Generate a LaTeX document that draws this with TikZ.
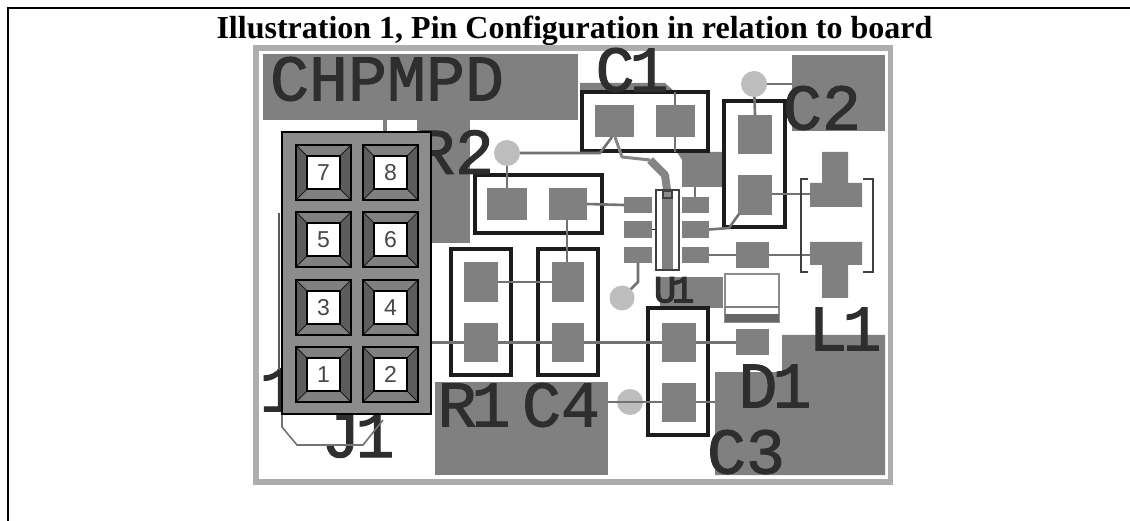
\documentclass[tikz,border=0pt]{standalone}
\usepackage{fontspec}
\setmainfont{Liberation Serif}
\newfontfamily\silk[FakeBold=1.6]{Liberation Mono}
\newfontfamily\silkb[FakeBold=3]{Liberation Mono}
\newfontfamily\pinf{Liberation Sans}
\usetikzlibrary{backgrounds}
\definecolor{padc}{HTML}{808080}
\definecolor{tracec}{HTML}{727272}
\definecolor{boxc}{HTML}{1C1C1C}
\definecolor{dotc}{HTML}{BDBDBD}
\definecolor{silkc}{HTML}{2E2E2E}
\definecolor{hdrc}{HTML}{8C8C8C}
\tikzset{
  rectn/.style={rectangle,inner sep=0pt,outer sep=0pt},
  padn/.style={rectn,fill=padc},
  partbox/.style={rectn,draw=boxc,line width=3.4pt,fill=white},
  tracel/.style={draw=tracec,line width=2.6pt},
  dotn/.style={circle,fill=dotc,inner sep=0pt,outer sep=0pt,minimum size=26pt},
  silktext/.style={inner sep=0pt,outer sep=0pt,text=silkc,font=\silk\fontsize{65}{65}\selectfont},
  pinlabel/.style={inner sep=0pt,text=black!72,font=\pinf\fontsize{23}{23}\selectfont},
}
% name, style, x0, y0, x1, y1
\newcommand{\rn}[6]{%
  \pgfmathsetmacro{\myw}{#5-#3}\pgfmathsetmacro{\myh}{#6-#4}%
  \pgfmathsetmacro{\mycx}{(#3+#5)/2}\pgfmathsetmacro{\mycy}{(#4+#6)/2}%
  \node[#2,minimum width=\myw pt,minimum height=\myh pt] (#1) at (\mycx,\mycy) {};}
% name, x0, y0, digit
\newcommand{\pinn}[4]{%
  \begin{scope}[shift={(#2,#3)}]
    \fill[black!50] (0,0) -- (55,0) -- (44,11) -- (11,11) -- cycle;
    \fill[black!50] (0,55) -- (55,55) -- (44,44) -- (11,44) -- cycle;
    \fill[black!64] (0,0) -- (0,55) -- (11,44) -- (11,11) -- cycle;
    \fill[black!64] (55,0) -- (55,55) -- (44,44) -- (44,11) -- cycle;
    \draw[black!90,line width=1pt] (0,0) -- (11,11) (55,0) -- (44,11) (0,55) -- (11,44) (55,55) -- (44,44);
    \draw[black,line width=2.4pt] (0,0) rectangle (55,55);
    \node[rectn,fill=white,draw=black,line width=1.8pt,minimum width=33pt,minimum height=33pt] (#1) at (27.5,27.5) {};
    \node[pinlabel] (#1t) at (27.5,27.5) {#4};
  \end{scope}}
\begin{document}
\begin{tikzpicture}[x=1pt,y=-1pt]
\useasboundingbox (0,0) rectangle (1130,521);
\fill[white] (0,0) rectangle (1130,521);
% page frame
\draw[black,line width=2pt] (8,521) -- (8,8) -- (1130,8);
% title
\node[inner sep=0pt,anchor=base,font=\bfseries\fontsize{32}{32}\selectfont] (title) at (574.5,38.5) {Illustration 1, Pin Configuration in relation to board};
% board
\draw[black!32,line width=5.5pt] (256,48) rectangle (890.5,482);
% copper pours
\fill[padc] (263,54) rectangle (578,120);
\fill[padc] (417,120) rectangle (470,243);
\fill[padc] (792,55) rectangle (885,131);
\fill[padc] (715,372) -- (782,372) -- (782,335) -- (885,335) -- (885,475) -- (715,475) -- cycle;
\fill[padc] (435,382) rectangle (608,475);
\fill[padc] (660,277) rectangle (723,308);
\fill[padc] (580,83) -- (665,83) -- (675,92) -- (580,92) -- cycle;
\fill[padc] (677,152) -- (723,152) -- (723,187) -- (682,187) -- (682,160) -- cycle;
\fill[padc] (383,120) rectangle (387,132);
% part outlines
\rn{C1box}{partbox}{582}{92}{708}{151}
\rn{C2box}{partbox}{724}{101}{785}{227}
\rn{R2box}{partbox}{475}{175}{602}{233}
\rn{R1box}{partbox}{451}{249}{511}{375}
\rn{C4box}{partbox}{538}{249}{598}{375}
\rn{C3box}{partbox}{648}{308}{708}{435}
% pads
\rn{C1a}{padn}{595}{105}{634}{137}
\rn{C1b}{padn}{656}{105}{695}{137}
\rn{C2a}{padn}{738}{115}{772}{154}
\rn{C2b}{padn}{738}{175}{772}{215}
\rn{R2a}{padn}{487}{188}{527}{220}
\rn{R2b}{padn}{549}{188}{587}{220}
\rn{R1a}{padn}{464}{262}{498}{302}
\rn{R1b}{padn}{464}{323}{498}{362}
\rn{C4a}{padn}{552}{262}{584}{302}
\rn{C4b}{padn}{552}{323}{584}{362}
\rn{C3a}{padn}{662}{323}{696}{362}
\rn{C3b}{padn}{662}{383}{696}{422}
\rn{D1p}{padn}{736}{329}{769}{355}
\rn{Qp}{padn}{736}{242}{769}{268}
\rn{UL1}{padn}{624}{197}{652}{213}
\rn{UL2}{padn}{624}{221}{652}{238}
\rn{UL3}{padn}{624}{247}{652}{263}
\rn{UR1}{padn}{682}{197}{709}{213}
\rn{UR2}{padn}{682}{221}{709}{238}
\rn{UR3}{padn}{682}{247}{709}{263}
% L1 pads
\fill[padc] (822,152) -- (848,152) -- (848,183) -- (862,183) -- (862,207) -- (810,207) -- (810,183) -- (822,183) -- cycle;
\fill[padc] (810,242) -- (862,242) -- (862,265) -- (848,265) -- (848,298) -- (822,298) -- (822,265) -- (810,265) -- cycle;
\coordinate (L1up) at (810,194);
\coordinate (L1lo) at (810,255);
% dots
\node[dotn] (dotA) at (507,153) {};
\node[dotn] (dotB) at (754,84) {};
\node[dotn,minimum size=25pt] (dotC) at (622,298) {};
\node[dotn] (dotD) at (630,402) {};
% free ends
\coordinate (pourC2) at (792,84);
\coordinate (pourC1) at (675,92);
\coordinate (pourU) at (695,187);
\coordinate (pourC4) at (608,402);
\coordinate (pourD1) at (715,402);
\coordinate (J1r) at (431,342.5);
% traces
\draw[tracel] (dotB) -- (pourC2);
\draw[tracel] (dotB) -- (C2a.north);
\draw[tracel] (dotA) -- (R2a.north -| dotA);
\draw[tracel] (dotA) -- (600,153) -- (612,137);
\draw[tracel] (R2b.east) -- (UL1.west);
\draw[tracel] (567,220) -- (567,262);
\draw[tracel] (J1r) -- (R1b.west);
\draw[tracel] (R1b.east) -- (C4b.west);
\draw[tracel] (C4b.east) -- (C3a.west);
\draw[tracel] (C3a.east) -- (D1p.west |- C3a.east);
\draw[tracel] (R1a.east) -- (C4a.west);
\draw[tracel] (pourC4) -- (C3b.west |- pourC4);
\draw[tracel] (C3b.east |- pourD1) -- (pourD1);
\draw[tracel] (C1b.north -| pourC1) -- (pourC1);
\draw[tracel] (675,137) -- (675,152);
\draw[tracel] (pourU) -- (UR1.north -| pourU);
\draw[tracel] (C2b.east |- L1up) -- (L1up);
\draw[tracel] (UR2.east) -- (729,228) -- (739,214);
\draw[tracel] (UR3.east) -- (Qp.west |- UR3.east);
\draw[tracel] (Qp.east |- L1lo) -- (L1lo);
\draw[tracel] (638,263) -- (638,282) -- (dotC);
\draw[draw=black!48,line width=3pt,line join=round] (615,137) -- (622,157) -- (650,160);
\draw[draw=black!48,line width=8pt,line join=round] (650,160) -- (665,175) -- (667,190);
\draw[draw=boxc,line width=1.4pt] (UL2.east) -- (662,229.5);
% L1 bracket
\draw[draw=black!75,line width=1.8pt] (808,179) -- (801,179) -- (801,272) -- (808,272);
\draw[draw=black!75,line width=1.8pt] (863,179) -- (873,179) -- (873,272) -- (863,272);
% U1 chip
\rn{U1chip}{rectn,draw=black!75,line width=1.4pt,fill=white}{656}{190}{679}{270}
\rn{U1core}{padn}{662}{191}{673}{269}
\rn{U1tab}{rectn,draw=black!75,line width=1.2pt,fill=black!45}{663}{191}{672}{198}
% D1 body
\rn{D1body}{rectn,draw=black!45,line width=2.4pt,fill=white}{725}{274}{779}{322}
\fill[black!60] (725,314) rectangle (779,322);
\draw[black!50,line width=1.6pt] (725,307) -- (779,307);
% silkscreen texts
\node[silktext] (tCHP) at (387,79) {CHPMPD};
\node[silktext] (tC1) at (632,70) {C\kern-5pt 1};
\node[silktext] (tC2) at (822,108) {C2};
\node[silktext] (tR2) at (455,152) {R2};
\node[silktext] (tR1) at (474,405) {R\kern-5pt 1};
\node[silktext] (tC4) at (561,405) {C4};
\node[silktext] (tC3) at (746,452) {C3};
\node[silktext] (tD1) at (775,386) {D\kern-5pt 1};
\node[silktext] (tL1) at (845,329) {L\kern-5pt 1};
\node[silktext] (tJ1) at (358,436) {J\kern-5pt 1};
\node[silktext] (tone) at (279,390) {1};
\node[inner sep=0pt,text=silkc,font=\silkb\fontsize{38}{38}\selectfont] (tU1) at (674,290) {U\kern-5pt 1};
% J1 keep-out line
\draw[draw=black!55,line width=1.6pt] (282,415) -- (282,427) -- (297,445) -- (363,445) -- (383,420);
\draw[draw=black!65,line width=2pt] (279,213) -- (279,370);
% J1 header
\rn{J1hdr}{rectn,draw=black,line width=2.4pt,fill=hdrc}{282}{132}{431}{414}
\pinn{P7}{296}{145}{7}
\pinn{P8}{363}{145}{8}
\pinn{P5}{296}{212}{5}
\pinn{P6}{363}{212}{6}
\pinn{P3}{296}{280}{3}
\pinn{P4}{363}{280}{4}
\pinn{P1}{296}{347}{1}
\pinn{P2}{363}{347}{2}
\end{tikzpicture}
\end{document}
